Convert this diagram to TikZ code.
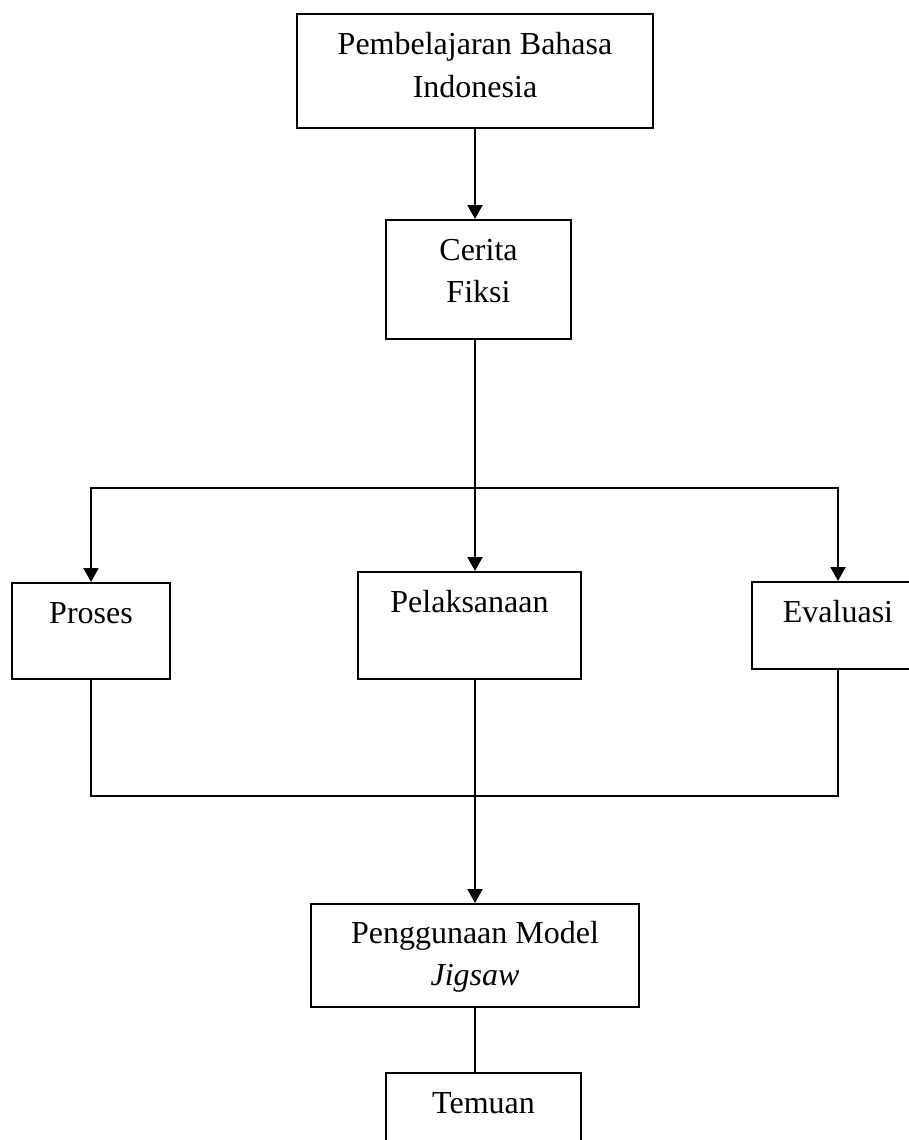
\documentclass[tikz,border=0pt]{standalone}
\usepackage{fontspec}
\setmainfont{Liberation Serif}
\usetikzlibrary{positioning, arrows.meta}

\tikzset{
  kotak/.style={draw, line width=1pt, inner sep=0pt, align=center, font=\fontsize{16}{21}\selectfont},
  garis/.style={line width=1pt},
}

\begin{document}
\begin{tikzpicture}[>={Triangle[length=7pt,width=7.5pt]}, x=0.5pt, y=-0.5pt]
    \useasboundingbox (0,0) rectangle (909,1140);

    % Kotak atas
    \node[kotak, anchor=north, minimum width=178pt, text height=41.5pt, text depth=15.5pt] (belajar) at (475,13) {Pembelajaran Bahasa\\Indonesia};
    \node[kotak, anchor=north, minimum width=92.5pt, text height=41pt, text depth=18.5pt] (cerita) at (478.5,219) {Cerita\\Fiksi};

    % Tiga kotak tengah
    \node[kotak, anchor=north, minimum width=79pt, text height=20pt, text depth=28pt] (proses) at (91,582) {Proses};
    \node[kotak, anchor=north, minimum width=111.5pt, text height=20pt, text depth=33.5pt] (laksana) at (469.5,571) {Pelaksanaan};
    \node[kotak, anchor=north, minimum width=86pt, text height=20pt, text depth=23.5pt] (evaluasi) at (838,581) {Evaluasi};

    % Kotak bawah
    \node[kotak, anchor=north, minimum width=164pt, text height=40.5pt, text depth=11pt] (guna) at (475,903) {Penggunaan Model\\\textit{Jigsaw}};
    \node[kotak, anchor=north, minimum width=97.5pt, text height=20pt, text depth=29pt] (temuan) at (483.5,1072) {Temuan};

    \coordinate (cabang) at (475,488);
    \coordinate (gabung) at (475,796);

    % Garis penghubung
    \draw[garis,->] (belajar.south) -- (belajar.south |- cerita.north);
    \draw[garis] (cabang |- cerita.south) -- (cabang);
    \draw[garis,->] (cabang) -- (cabang |- laksana.north);
    \draw[garis,->] (cabang) -| (proses.north);
    \draw[garis,->] (cabang) -| (evaluasi.north);
    \draw[garis] (proses.south) |- (gabung) -| (evaluasi.south);
    \draw[garis] (gabung |- laksana.south) -- (gabung);
    \draw[garis,->] (gabung) -- (guna.north);
    \draw[garis] (guna.south) -- (guna.south |- temuan.north);
\end{tikzpicture}
\end{document}
